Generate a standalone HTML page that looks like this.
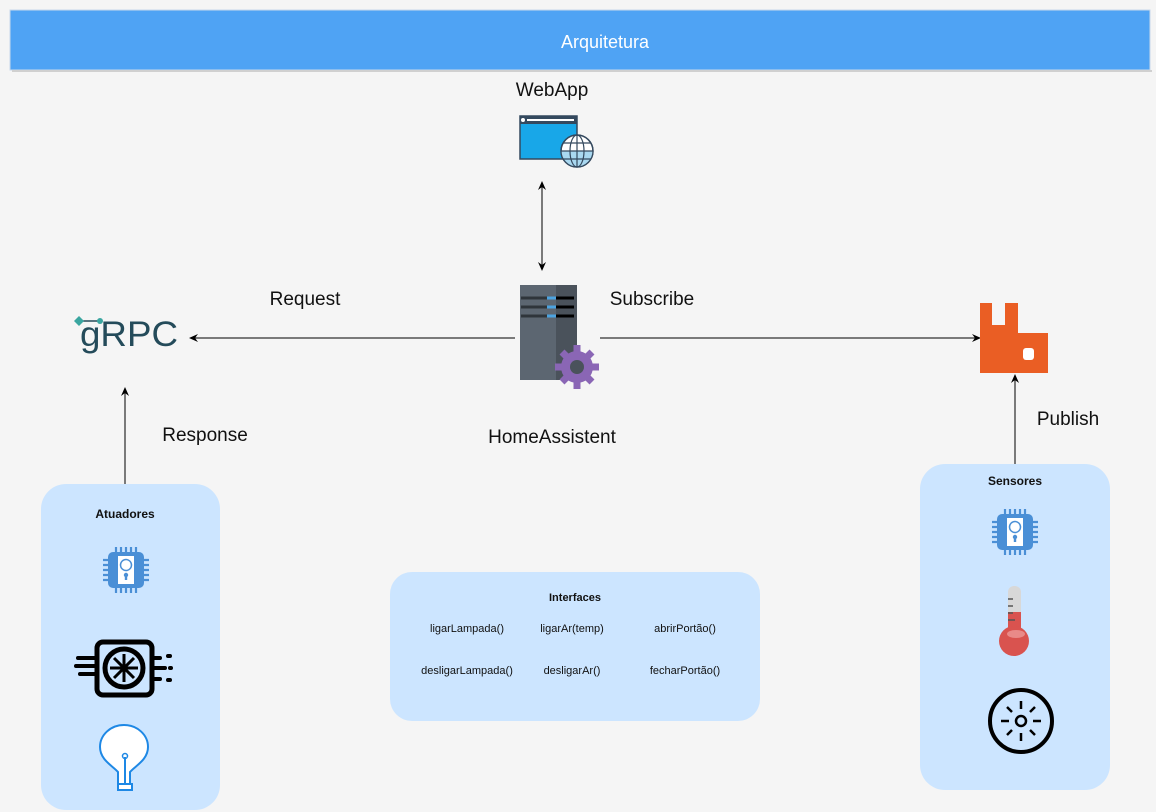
<!DOCTYPE html>
<html><head><meta charset="utf-8"><style>
body{margin:0;background:#f5f5f5;}
svg{display:block;font-family:"Liberation Sans",Arial,sans-serif;}
</style></head><body>
<svg width="1156" height="812" viewBox="0 0 1156 812">
<defs>
<marker id="ar" markerWidth="10" markerHeight="10" refX="8" refY="5" orient="auto-start-reverse" markerUnits="userSpaceOnUse"><path d="M0,1 L9,5 L0,9 L3,5z" fill="#000"/></marker>
<g id="chip">
<g stroke="#4a8fd6" stroke-width="2.2">
<line x1="-10" y1="-23" x2="-10" y2="23"/><line x1="-5" y1="-23" x2="-5" y2="23"/><line x1="0" y1="-23" x2="0" y2="23"/><line x1="5" y1="-23" x2="5" y2="23"/><line x1="10" y1="-23" x2="10" y2="23"/>
<line y1="-10" x1="-23" y2="-10" x2="23"/><line y1="-5" x1="-23" y2="-5" x2="23"/><line y1="0" x1="-23" y2="0" x2="23"/><line y1="5" x1="-23" y2="5" x2="23"/><line y1="10" x1="-23" y2="10" x2="23"/>
</g>
<rect x="-18" y="-18" width="36" height="36" rx="5" fill="#4a8fd6"/>
<rect x="-8" y="-14" width="16" height="28" fill="#fff"/>
<circle cx="0" cy="-5" r="5.5" fill="none" stroke="#4a8fd6" stroke-width="1.5"/>
<circle cx="0" cy="5" r="2.2" fill="#4a8fd6"/><rect x="-1.2" y="5" width="2.4" height="5" fill="#4a8fd6"/>
</g>
</defs>
<rect x="10" y="10" width="1140" height="60" fill="#4fa3f4" stroke="#c8d8ea" stroke-width="1"/>
<rect x="12" y="70" width="1140" height="2" fill="#d0d0d0"/>
<text x="605" y="48" font-size="18" fill="#fff" text-anchor="middle">Arquitetura</text>

<text x="552" y="96" font-size="19" text-anchor="middle" fill="#111">WebApp</text>
<rect x="520" y="116" width="57" height="43" fill="#18a7e8" stroke="#34495e" stroke-width="1.5"/>
<rect x="520" y="116" width="57" height="8" fill="#34495e"/>
<rect x="527" y="119" width="47" height="2" fill="#fff"/>
<circle cx="523" cy="120" r="2" fill="#fff"/>
<circle cx="577" cy="151" r="16" fill="#fff" stroke="#34495e" stroke-width="1.5"/>
<path d="M561,151 A16,16 0 0 0 593,151 Z" fill="#a9d8f0"/>
<g fill="none" stroke="#34495e" stroke-width="1.2"><circle cx="577" cy="151" r="16"/><ellipse cx="577" cy="151" rx="7" ry="16"/><line x1="561" y1="151" x2="593" y2="151"/><line x1="563" y1="143" x2="591" y2="143"/><line x1="563" y1="159" x2="591" y2="159"/><line x1="577" y1="135" x2="577" y2="167"/></g>

<line x1="542" y1="182" x2="542" y2="270" stroke="#000" marker-end="url(#ar)" marker-start="url(#ar)"/>

<rect x="520" y="285" width="57" height="95" fill="#5c6671"/>
<rect x="556" y="285" width="21" height="95" fill="#4a525b"/>
<g stroke-width="3"><line x1="521" y1="298" x2="547" y2="298" stroke="#2f353b"/><line x1="547" y1="298" x2="556" y2="298" stroke="#4ca3e0"/><line x1="556" y1="298" x2="574" y2="298" stroke="#000"/>
<line x1="521" y1="307" x2="547" y2="307" stroke="#2f353b"/><line x1="547" y1="307" x2="556" y2="307" stroke="#4ca3e0"/><line x1="556" y1="307" x2="574" y2="307" stroke="#000"/>
<line x1="521" y1="316" x2="547" y2="316" stroke="#2f353b"/><line x1="547" y1="316" x2="556" y2="316" stroke="#4ca3e0"/><line x1="556" y1="316" x2="574" y2="316" stroke="#000"/></g>
<g transform="translate(577,367)" fill="#8a66b5"><circle r="16"/><g stroke="#8a66b5" stroke-width="7"><line x1="0" y1="-22" x2="0" y2="22"/><line x1="-22" y1="0" x2="22" y2="0"/><line x1="-15" y1="-15" x2="15" y2="15"/><line x1="-15" y1="15" x2="15" y2="-15"/></g><circle r="7" fill="#4a525b"/></g>
<text x="552" y="443" font-size="19" text-anchor="middle" fill="#111">HomeAssistent</text>

<line x1="515" y1="338" x2="190" y2="338" stroke="#000" marker-end="url(#ar)"/>
<line x1="600" y1="338" x2="980" y2="338" stroke="#000" marker-end="url(#ar)"/>
<text x="305" y="305" font-size="19" text-anchor="middle" fill="#111">Request</text>
<text x="652" y="305" font-size="19" text-anchor="middle" fill="#111">Subscribe</text>

<text x="80" y="346" font-size="35" fill="#244b5a" textLength="98" lengthAdjust="spacingAndGlyphs">gRPC</text>
<line x1="78" y1="321" x2="100" y2="321" stroke="#244b5a" stroke-width="1.5"/>
<path d="M74,321 l5,-5 l5,5 l-5,5z" fill="#3aa6a0"/>
<circle cx="100" cy="321" r="3" fill="#3aa6a0"/>

<line x1="125" y1="490" x2="125" y2="388" stroke="#000" marker-end="url(#ar)"/>
<text x="205" y="441" font-size="19" text-anchor="middle" fill="#111">Response</text>

<path d="M980,303 h12 v22 h13 v-22 h13 v30 h30 v40 h-68z" fill="#ea5e24"/>
<rect x="1023" y="348" width="11" height="12" rx="3" fill="#fff"/>
<line x1="1015" y1="470" x2="1015" y2="375" stroke="#000" marker-end="url(#ar)"/>
<text x="1068" y="425" font-size="19" text-anchor="middle" fill="#111">Publish</text>

<rect x="41" y="484" width="179" height="326" rx="25" fill="#cce5ff"/>
<text x="125" y="518" font-size="12" font-weight="bold" text-anchor="middle" fill="#111">Atuadores</text>
<use href="#chip" x="126" y="570"/>
<rect x="97" y="642" width="55" height="53" rx="6" fill="none" stroke="#000" stroke-width="5"/>
<circle cx="124" cy="668" r="19" fill="none" stroke="#000" stroke-width="5"/>
<g stroke="#000" stroke-width="3"><line x1="110" y1="668" x2="138" y2="668"/><line x1="124" y1="654" x2="124" y2="682"/><line x1="114" y1="658" x2="134" y2="678"/><line x1="114" y1="678" x2="134" y2="658"/></g>
<g stroke="#000" stroke-width="4" stroke-linecap="round"><line x1="78" y1="658" x2="95" y2="658"/><line x1="76" y1="666" x2="95" y2="666"/><line x1="80" y1="674" x2="95" y2="674"/><line x1="154" y1="658" x2="160" y2="658"/><line x1="154" y1="668" x2="165" y2="668"/><line x1="154" y1="679" x2="160" y2="679"/><line x1="168" y1="656" x2="170" y2="656"/><line x1="170" y1="668" x2="171" y2="668"/><line x1="168" y1="680" x2="170" y2="680"/></g>
<path d="M118,784 v-12 c-5,-6 -18,-12 -18,-25 a24,22 0 0 1 48,0 c0,13 -13,19 -18,25 v12z" fill="#fff" stroke="#1e88e5" stroke-width="2"/>
<line x1="125" y1="757" x2="125" y2="784" stroke="#1e88e5" stroke-width="2"/><circle cx="125" cy="756" r="2.5" fill="none" stroke="#1e88e5" stroke-width="1.5"/>
<rect x="118" y="784" width="14" height="6" fill="#fff" stroke="#1e88e5" stroke-width="2"/>

<rect x="920" y="464" width="190" height="326" rx="25" fill="#cce5ff"/>
<text x="1015" y="485" font-size="12" font-weight="bold" text-anchor="middle" fill="#111">Sensores</text>
<use href="#chip" x="1015" y="532"/>
<rect x="1008" y="586" width="13" height="50" rx="6" fill="#d8d8d8"/>
<rect x="1008" y="612" width="13" height="25" fill="#d9534f"/>
<circle cx="1014" cy="641" r="15" fill="#d9534f"/>
<ellipse cx="1016" cy="634" rx="9" ry="4" fill="#e98a88"/>
<g stroke="#555" stroke-width="1.5"><line x1="1008" y1="599" x2="1013" y2="599"/><line x1="1008" y1="606" x2="1013" y2="606"/><line x1="1008" y1="613" x2="1013" y2="613"/><line x1="1008" y1="620" x2="1015" y2="620"/></g>
<circle cx="1021" cy="721" r="31" fill="none" stroke="#000" stroke-width="4"/>
<circle cx="1021" cy="721" r="5" fill="none" stroke="#000" stroke-width="2.5"/>
<g stroke="#000" stroke-width="2.5"><line x1="1021" y1="701" x2="1021" y2="709"/><line x1="1021" y1="733" x2="1021" y2="741"/><line x1="1001" y1="721" x2="1009" y2="721"/><line x1="1033" y1="721" x2="1041" y2="721"/><line x1="1007" y1="707" x2="1012" y2="712"/><line x1="1030" y1="730" x2="1035" y2="735"/><line x1="1007" y1="735" x2="1012" y2="730"/><line x1="1030" y1="712" x2="1035" y2="707"/></g>

<rect x="390" y="572" width="370" height="149" rx="22" fill="#cce5ff"/>
<g font-size="11" text-anchor="middle" fill="#111">
<text x="575" y="601" font-weight="bold">Interfaces</text>
<text x="467" y="632">ligarLampada()</text><text x="572" y="632">ligarAr(temp)</text><text x="685" y="632">abrirPortão()</text>
<text x="467" y="674">desligarLampada()</text><text x="572" y="674">desligarAr()</text><text x="685" y="674">fecharPortão()</text>
</g>
</svg>
</body></html>
